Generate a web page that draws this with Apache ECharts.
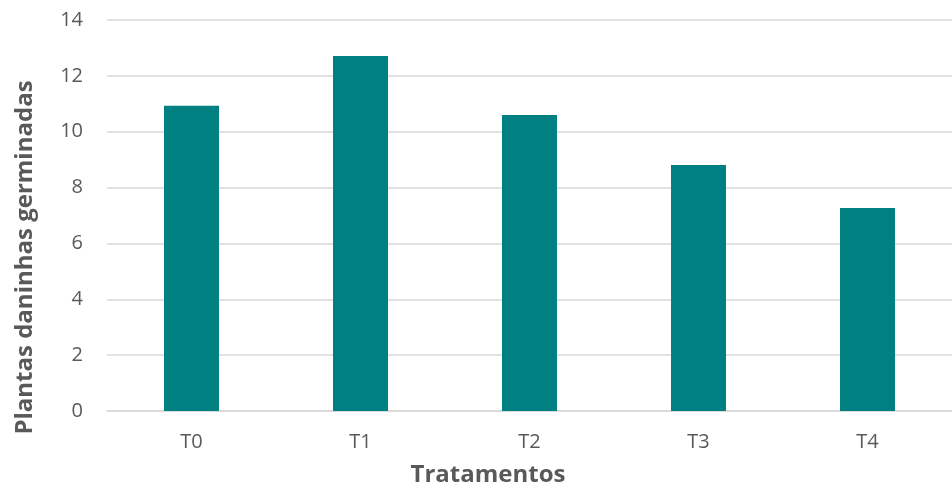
<!DOCTYPE html>
<html>
<head>
<meta charset="utf-8">
<script src="https://cdn.jsdelivr.net/npm/echarts@6/dist/echarts.min.js"></script>
<style>
  html, body { margin: 0; padding: 0; background: #fff; }
  #main { width: 952px; height: 488px; }
</style>
</head>
<body>
<div id="main"></div>
<script>
var chartDom = document.getElementById('main');
var myChart = echarts.init(chartDom);

// data
const categories = ['T0', 'T1', 'T2', 'T3', 'T4'];
const values = [10.93, 12.71, 10.6, 8.81, 7.27];
const yTicks = [0, 2, 4, 6, 8, 10, 12, 14];

const barColor = '#008080';
const textColor = '#595959';
const gridColor = '#d9d9d9';
const font = 'Open Sans';

var option = {
  animation: false,
  grid: {
    left: 107,
    right: 0,
    top: 20,
    bottom: 77,
    containLabel: false,
    outerBoundsMode: 'none'
  },
  xAxis: {
    type: 'category',
    data: categories,
    name: 'Tratamentos',
    nameLocation: 'middle',
    nameGap: 52,
    nameTextStyle: {
      color: textColor,
      fontFamily: font,
      fontWeight: 'bold',
      fontSize: 24,
      padding: [0, 83, 0, 0]
    },
    axisLine: { lineStyle: { color: gridColor, width: 1.5 } },
    axisTick: { show: false },
    axisLabel: {
      color: textColor,
      fontFamily: font,
      fontSize: 20,
      margin: 21
    }
  },
  yAxis: {
    type: 'value',
    min: yTicks[0],
    max: yTicks[yTicks.length - 1],
    interval: 2,
    name: 'Plantas daninhas germinadas',
    nameLocation: 'middle',
    nameGap: 70,
    nameTextStyle: {
      color: textColor,
      fontFamily: font,
      fontWeight: 'bold',
      fontSize: 24,
      padding: [0, 84, 0, 0]
    },
    axisLine: { show: false },
    axisTick: { show: false },
    axisLabel: {
      color: textColor,
      fontFamily: font,
      fontSize: 20,
      margin: 24
    },
    splitLine: { lineStyle: { color: gridColor, width: 1.5 } }
  },
  series: [
    {
      type: 'bar',
      data: values,
      barWidth: 55,
      itemStyle: { color: barColor }
    }
  ]
};

option && myChart.setOption(option);
</script>
</body>
</html>
